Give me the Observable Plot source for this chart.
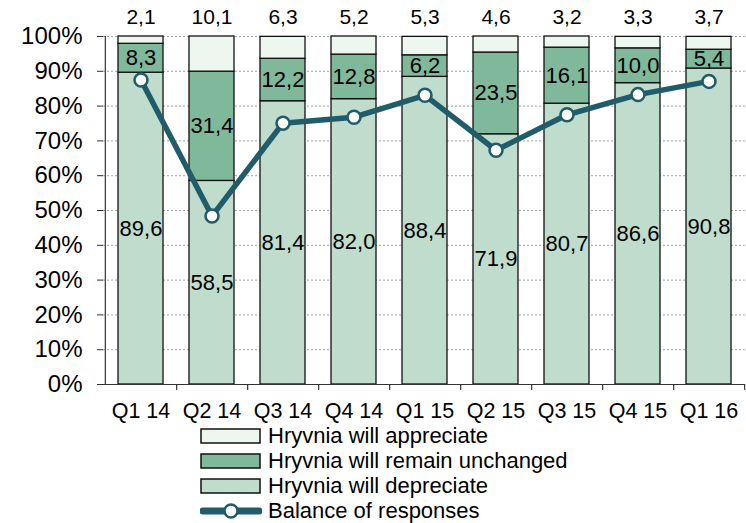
<!DOCTYPE html>
<html><head><meta charset="utf-8">
<script src="https://cdn.jsdelivr.net/npm/d3@7"></script>
<script src="https://cdn.jsdelivr.net/npm/@observablehq/plot@0.6"></script>
<style>
body{margin:0;background:#fff;font-family:"Liberation Sans",Arial,sans-serif;color:#000;}
#legend{margin-left:200px;}
.row{display:flex;align-items:center;height:25px;font-size:22px;line-height:25px;}
.row svg{margin-right:6px;flex:none;}
g[aria-label="y-axis tick label"]{font-size:24px;}
g[aria-label="x-axis tick label"]{font-size:21.5px;}
</style></head><body>
<div id="chart"></div>
<div id="legend"></div>
<script>
const quarters = ["Q1 14","Q2 14","Q3 14","Q4 14","Q1 15","Q2 15","Q3 15","Q4 15","Q1 16"];
const appreciate = [2.1,10.1,6.3,5.2,5.3,4.6,3.2,3.3,3.7];
const unchanged = [8.3,31.4,12.2,12.8,6.2,23.5,16.1,10.0,5.4];
const depreciate = [89.6,58.5,81.4,82.0,88.4,71.9,80.7,86.6,90.8];
const balance = [87.5,48.4,75.1,76.8,83.1,67.3,77.5,83.3,87.1];
const yTicks = [0,10,20,30,40,50,60,70,80,90,100];
const seriesNames = ["Hryvnia will appreciate","Hryvnia will remain unchanged","Hryvnia will depreciate"];
const seriesColors = ["#eef6f0","#7fb89b","#bfdccd"];
const lineName = "Balance of responses";
const lineColor = "#215c6a";

const fmt = v => v.toFixed(1).replace(".", ",");
const rows = [];
quarters.forEach((q,i) => {
  rows.push({q, series: seriesNames[2], value: depreciate[i]});
  rows.push({q, series: seriesNames[1], value: unchanged[i]});
  rows.push({q, series: seriesNames[0], value: appreciate[i]});
});
const stackOrder = [seriesNames[2], seriesNames[1], seriesNames[0]];
const idx = quarters.map((_, i) => i);

const W = 746, H = 423, mL = 103, mR = 1, mT = 36, mB = 39;
const step = (W - mL - mR) / quarters.length;

const chart = Plot.plot({
  width: W, height: H,
  marginLeft: mL, marginRight: mR, marginTop: mT, marginBottom: mB,
  style: {fontFamily: "'Liberation Sans', Arial, sans-serif", fontSize: "22px", color: "#000", background: "#fff", overflow: "visible"},
  x: {domain: quarters, paddingInner: 0.37, paddingOuter: 0.185},
  y: {domain: [0, 100]},
  color: {domain: seriesNames, range: seriesColors},
  marks: [
    Plot.ruleY(yTicks.slice(1), {stroke: "#a5a5a5", strokeWidth: 1, strokeDasharray: "2,2"}),
    Plot.barY(rows, {x: "q", y: "value", fill: "series", z: "series", order: stackOrder, stroke: "#111", strokeWidth: 1.3}),
    Plot.text(rows, Plot.stackY({filter: d => d.series !== seriesNames[0], x: "q", y: "value", z: "series", order: stackOrder, text: d => fmt(d.value), fontSize: 22, fill: "#000"})),
    Plot.text(idx, {x: i => quarters[i], y: 100, text: i => fmt(appreciate[i]), dy: -19, fontSize: 21, fill: "#000"}),
    Plot.line(idx, {x: i => quarters[i], y: i => balance[i], stroke: lineColor, strokeWidth: 5.5, strokeLinejoin: "round"}),
    Plot.dot(idx, {x: i => quarters[i], y: i => balance[i], r: 6.5, fill: "#fff", stroke: lineColor, strokeWidth: 2.5}),
    Plot.ruleY([0], {stroke: "#333", strokeWidth: 1.2}),
    Plot.ruleX([quarters[0]], {y1: 0, y2: 100, dx: -step/2, stroke: "#333", strokeWidth: 1.2}),
    Plot.ruleX(quarters, {y1: 0, y2: -1.7, dx: step/2, stroke: "#333", strokeWidth: 1.2}),
    Plot.axisY({ticks: yTicks, tickFormat: d => d + "%", tickSize: 6, tickPadding: 15, fontSize: 24, stroke: "#333", label: null}),
    Plot.axisX({tickSize: 0, tickPadding: 18, fontSize: 21.5, label: null})
  ]
});
document.getElementById("chart").appendChild(chart);

const legend = document.getElementById("legend");
const items = seriesNames.map((n, i) => ({name: n, color: seriesColors[i], type: "rect"}));
items.push({name: lineName, color: lineColor, type: "line"});
for (const it of items) {
  const row = document.createElement("div");
  row.className = "row";
  let sw;
  if (it.type === "rect") {
    sw = `<svg width="62" height="16"><rect x="1" y="1" width="59" height="14" fill="${it.color}" stroke="#111" stroke-width="1.5"/></svg>`;
  } else {
    sw = `<svg width="62" height="18"><line x1="3" y1="9" x2="59" y2="9" stroke="${it.color}" stroke-width="7" stroke-linecap="round"/><circle cx="31" cy="9" r="6.5" fill="#fff" stroke="${it.color}" stroke-width="2.5"/></svg>`;
  }
  row.innerHTML = sw + `<span>${it.name}</span>`;
  legend.appendChild(row);
}
</script>
</body></html>
